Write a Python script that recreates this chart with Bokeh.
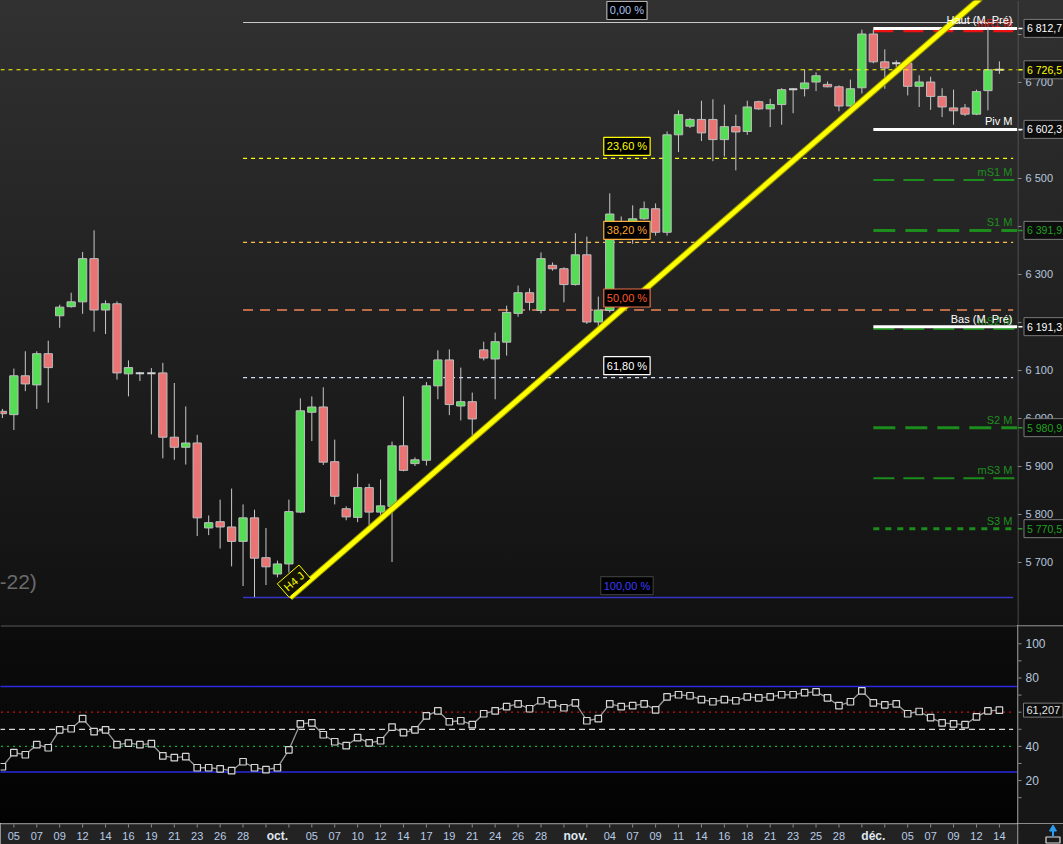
from bokeh.plotting import figure
from bokeh.models import Range1d, ColumnDataSource, Label, Span
from bokeh.layouts import column, row
from bokeh.embed import file_html
from bokeh.resources import INLINE
from bokeh.core.properties import value

FONT = "Liberation Sans"

# ---------------- data (daily candles, 6 sessions per week) ----------------
opens = [6015, 6008, 6089, 6070, 6135, 6214, 6233, 6243, 6333, 6226,
         6239, 6093, 6094, 6094, 6095, 5961, 5940, 5949, 5772, 5785,
         5774, 5744, 5793, 5710, 5676, 5697, 5805, 6013, 6024, 5910,
         5812, 5794, 5856, 5805, 5817, 5943, 5906, 5913, 6068, 6122,
         6026, 6035, 6143, 6124, 6159, 6219, 6262, 6225, 6319, 6312,
         6279, 6341, 6201, 6225, 6408, 6392, 6416, 6437, 6388, 6591,
         6609, 6623, 6623, 6581, 6608, 6598, 6660, 6645, 6654, 6686,
         6687, 6701, 6696, 6691, 6651, 6689, 6801, 6743, 6740, 6740,
         6692, 6701, 6671, 6647, 6647, 6634, 6683, 6726.5]
highs = [6020, 6104, 6140, 6140, 6162, 6237, 6262, 6347, 6392, 6246,
         6244, 6121, 6097, 6105, 6116, 6074, 6025, 5966, 5798, 5831,
         5854, 5821, 5810, 5772, 5704, 5831, 6042, 6046, 6065, 5956,
         5817, 5885, 5864, 5873, 5952, 6046, 5919, 6076, 6142, 6144,
         6106, 6054, 6160, 6179, 6235, 6277, 6271, 6346, 6325, 6315,
         6386, 6379, 6254, 6469, 6421, 6444, 6452, 6448, 6598, 6642,
         6626, 6662, 6665, 6654, 6633, 6662, 6662, 6666, 6688, 6688,
         6727, 6721, 6702, 6694, 6706, 6810, 6810, 6769, 6746, 6753,
         6715, 6712, 6688, 6685, 6655, 6685, 6812.7, 6744]
lows = [6001, 5976, 6057, 6020, 6033, 6189, 6231, 6218, 6181, 6176,
        6081, 6046, 6078, 5967, 5917, 5914, 5904, 5755, 5757, 5729,
        5692, 5651, 5628, 5653, 5669, 5679, 5803, 5953, 5903, 5821,
        5788, 5784, 5777, 5794, 5701, 5890, 5901, 5902, 6040, 6007,
        5996, 5961, 6121, 6040, 6131, 6212, 6225, 6219, 6308, 6242,
        6277, 6197, 6183, 6221, 6375, 6364, 6414, 6381, 6381, 6555,
        6605, 6578, 6536, 6546, 6517, 6591, 6643, 6607, 6612, 6636,
        6671, 6682, 6690, 6640, 6642, 6677, 6740, 6687, 6732, 6673,
        6649, 6643, 6628, 6612, 6630, 6632, 6642, 6718]
closes = [6010, 6089, 6072, 6135, 6106, 6232, 6243, 6333, 6226, 6239,
          6095, 6106, 6094, 6094, 5961, 5940, 5949, 5793, 5783, 5774,
          5744, 5793, 5709, 5691, 5697, 5806, 6016, 6024, 5909, 5838,
          5795, 5856, 5805, 5818, 5943, 5892, 5914, 6068, 6122, 6029,
          6035, 5999, 6126, 6160, 6221, 6262, 6242, 6333, 6312, 6279,
          6341, 6201, 6226, 6426, 6392, 6416, 6437, 6388, 6591, 6633,
          6623, 6595, 6581, 6608, 6597, 6649, 6645, 6654, 6685, 6686,
          6699, 6714, 6691, 6651, 6687, 6801, 6743, 6730, 6740, 6692,
          6701, 6671, 6649, 6641, 6634, 6681, 6726.5, 6726.5]
rsi = [28.1, 36.3, 35.1, 41.0, 39.2, 49.7, 50.3, 56.2, 48.6, 49.7,
       41.0, 41.9, 41.0, 41.6, 34.5, 33.4, 34.0, 27.5, 27.5, 26.9,
       25.8, 31.0, 27.5, 26.4, 27.5, 38.0, 53.2, 53.8, 46.8, 42.7,
       40.4, 45.1, 42.1, 43.3, 51.3, 48.0, 49.7, 57.9, 60.8, 54.4,
       55.0, 52.7, 59.1, 60.8, 63.2, 64.9, 62.0, 66.7, 64.9, 62.6,
       65.5, 55.0, 56.2, 64.9, 63.2, 63.8, 64.9, 61.4, 69.0, 70.2,
       69.6, 67.3, 66.1, 67.3, 66.7, 69.0, 68.4, 69.0, 70.2, 70.2,
       71.4, 71.9, 68.4, 63.8, 66.1, 72.5, 65.5, 64.3, 64.9, 59.1,
       60.4, 56.8, 53.8, 53.2, 52.7, 57.3, 60.8, 61.207]
rsi_last_text = "61,207"

# x-axis (session index -> label)
day_ticks = [1, 3, 5, 7, 9, 11, 13, 15, 17, 19, 21,
             27, 29, 31, 33, 35, 37, 39, 41, 43, 45, 47,
             53, 55, 57, 59, 61, 63, 65, 67, 69, 71, 73,
             79, 81, 83, 85, 87]
day_labels = ["05", "07", "09", "12", "14", "16", "19", "21", "23", "26", "28",
              "05", "07", "10", "12", "14", "17", "19", "21", "24", "26", "28",
              "04", "07", "09", "11", "14", "16", "18", "21", "23", "25", "28",
              "05", "07", "09", "12", "14"]
blank_ticks = [23, 25, 49, 51, 75, 77]
month_ticks = [24, 50, 76]
month_labels = ["oct.", "nov.", "déc."]

price_ticks = [5700, 5800, 5900, 6000, 6100, 6200, 6300, 6400, 6500, 6600, 6700, 6800]
price_tick_labels = ["5 700", "5 800", "5 900", "6 000", "6 100", "6 200",
                     "6 300", "6 400", "6 500", "6 600", "6 700", "6 800"]
rsi_ticks = [10, 20, 30, 40, 50, 60, 70, 80, 90, 100]
rsi_label_ticks = [20, 40, 60, 80, 100]
rsi_tick_labels = ["20", "40", "60", "80", "100"]

# Fibonacci retracement
fib_names = ["0,00 %", "23,60 %", "38,20 %", "50,00 %", "61,80 %", "100,00 %"]
fib_prices = [6825.0, 6542.0, 6367.0, 6226.0, 6085.0, 5627.0]
fib_line_colors = ["#c8c8c8", "#ffff00", "#ffc04a", "#f0845a", "#d4dcff", "#3535c8"]
fib_text_colors = ["#a9c2ee", "#ffff00", "#ffa530", "#ff5a28", "#ffffff", "#3c3cff"]
fib_box_colors = ["#b0b0b0", "#ffff00", "#ffb040", "#e8704a", "#ffffff", "#3a3a3a"]
fib_dashes = ["solid", "4 4", "4 4", "10 7", "4 4", "solid"]
fib_widths = [1.2, 1.3, 1.3, 1.3, 1.3, 1.5]

# monthly pivots
piv_names = ["mR1 M", "Haut (M. Pré)", "Piv M", "mS1 M", "S1 M",
             "mS2 M", "Bas (M. Pré)", "S2 M", "mS3 M", "S3 M"]
piv_values = [6807.8, 6812.7, 6602.3, 6497.1, 6391.9,
              6186.4, 6191.3, 5980.9, 5875.7, 5770.5]
piv_colors = ["#ee1111", "#ffffff", "#ffffff", "#1c8c1c", "#1c8c1c",
              "#1c8c1c", "#ffffff", "#1c8c1c", "#1c8c1c", "#1c8c1c"]
piv_text_colors = ["#e01818", "#ffffff", "#ffffff", "#1f8f1f", "#1f8f1f",
                   "#1f8f1f", "#ffffff", "#1f8f1f", "#1f8f1f", "#1f8f1f"]
piv_dashes = ["20 10", "solid", "solid", "21 9", "22 10",
              "21 9", "solid", "22 10", "21 9", "6 6"]
piv_widths = [3, 3, 3, 2, 3, 2, 3, 3, 2, 3]

last_price = 6726.5
axis_box_values = [6812.7, 6726.5, 6602.3, 6391.9, 6191.3, 5980.9, 5770.5]
axis_box_texts = ["6 812,7", "6 726,5", "6 602,3", "6 391,9", "6 191,3", "5 980,9", "5 770,5"]
axis_box_colors = ["#ffffff", "#ffff00", "#ffffff", "#22a022", "#ffffff", "#22a022", "#22a022"]

# trend line drawn by the user
trend_x = [25.1, 90.0]
trend_y = [5627.0, 6972.0]

# RSI reference levels
rsi_levels = [75, 60, 50, 40, 25]
rsi_level_colors = ["#2a2ae0", "#d01010", "#d8d8d8", "#10b048", "#2a2ae0"]
rsi_level_dashes = ["solid", "2 4", "6 4", "2 4", "solid"]
rsi_level_widths = [1.6, 1.3, 1.3, 1.3, 1.6]

# ---------------- layout constants ----------------
FW, AW = 1017, 46
MAIN_H, RSI_H, XAX_H = 625, 198, 21
X0, X1 = -0.166, 88.58
XR = Range1d(X0, X1)
PX_PER_X = FW / (X1 - X0)
NAME_X = 88.14
LEVEL_START = 76
FIB_START = 21
FIB_END = 88.2
FIB_LABEL_X = 54.5
MAIN_BG = "linear-gradient(180deg, #313131 0%, #222222 45%, #111111 100%)"


def bare(**kw):
    f = figure(toolbar_location=None, output_backend="svg", x_axis_location=None,
               y_axis_location=None, min_border=0, outline_line_color=None, **kw)
    f.grid.visible = False
    return f


# ---------------- main price chart ----------------
p = bare(frame_width=FW, frame_height=MAIN_H, x_range=XR, y_range=Range1d(5568.75, 6870.8),
         background_fill_color=None, border_fill_color=None)
p.styles = {"background": MAIN_BG}

for name, lvl, lc, dash, w in zip(fib_names, fib_prices, fib_line_colors, fib_dashes, fib_widths):
    p.segment(x0=[FIB_START], y0=[lvl], x1=[FIB_END], y1=[lvl],
              line_color=lc, line_dash=dash, line_width=w)

p.add_layout(Span(location=last_price, dimension="width", line_color="#ffff00",
                  line_dash="4 4", line_width=1.2))

for val, col, dash, w in zip(piv_values, piv_colors, piv_dashes, piv_widths):
    p.segment(x0=[LEVEL_START], y0=[val], x1=[X1 + 1], y1=[val],
              line_color=col, line_dash=dash, line_width=w)

kind = ["up" if c > o else ("down" if c < o else "flat") for o, c in zip(opens, closes)]
fill_map = {"up": "#55de55", "down": "#ea7474", "flat": "#d2d2d2"}
edge_map = {"up": "#bdbdbd", "down": "#bdbdbd", "flat": "#d2d2d2"}
src = ColumnDataSource(dict(
    x=list(range(len(opens))), o=opens, h=highs, l=lows, c=closes,
    top=[max(o, c) for o, c in zip(opens, closes)],
    bottom=[min(o, c) for o, c in zip(opens, closes)],
    fill=[fill_map[k] for k in kind], edge=[edge_map[k] for k in kind],
    ew=[2.0 if k == "flat" else 1.0 for k in kind]))
p.segment(x0="x", y0="l", x1="x", y1="h", source=src, line_color="#c8c8c8", line_width=1)
p.vbar(x="x", width=0.725, top="top", bottom="bottom", source=src,
       fill_color="fill", line_color="edge", line_width="ew")

p.line(trend_x, trend_y, line_color="#9a9a00", line_width=6.5)
p.line(trend_x, trend_y, line_color="#ffff00", line_width=4.5)
p.add_layout(Label(x=25.45, y=5661, text="H4 J", angle=0.714, text_align="center",
                   text_baseline="middle", text_color="#ffff00", text_font=FONT,
                   text_font_size="11px", background_fill_color="#141400",
                   border_line_color="#ffff00", padding=3))

for name, lvl, tc, bc in zip(fib_names, fib_prices, fib_text_colors, fib_box_colors):
    p.add_layout(Label(x=FIB_LABEL_X, y=lvl, text=name, text_align="center",
                       text_baseline="bottom", y_offset=3, text_color=tc,
                       text_font=FONT, text_font_size="11px",
                       background_fill_color="#000000", border_line_color=bc,
                       border_line_width=1.2, padding=3))

for name, val, tc in zip(piv_names, piv_values, piv_text_colors):
    p.add_layout(Label(x=NAME_X, y=val, text=name, text_align="right",
                       text_baseline="bottom", y_offset=2, text_color=tc,
                       text_font=FONT, text_font_size="11px"))

p.add_layout(Label(x=X0 - 1 / PX_PER_X, y=5661, text="-22)", text_align="left",
                   text_baseline="middle", text_color="#6a6a6a", text_font=FONT,
                   text_font_size="21px"))

# ---------------- price axis panel ----------------
pa = bare(frame_width=AW, frame_height=MAIN_H, x_range=Range1d(0, AW), y_range=p.y_range,
          background_fill_color=None, border_fill_color=None)
pa.styles = {"background": MAIN_BG}
pa.add_layout(Span(location=0.5, dimension="height", line_color="#5c5c5c", line_width=1))
pa.segment(x0=[0] * len(price_ticks), y0=price_ticks, x1=[4] * len(price_ticks), y1=price_ticks,
           line_color="#8c8c8c", line_width=1)
pa.text(x=[8] * len(price_ticks), y=price_ticks, text=price_tick_labels,
        text_font=value(FONT), text_font_size="11px", text_color="#b7c7df",
        text_baseline="middle", text_align="left")
pa.segment(x0=[0] * len(axis_box_values), y0=axis_box_values, x1=[5] * len(axis_box_values),
           y1=axis_box_values, line_color=axis_box_colors, line_width=1.5)
for val, txt, col in zip(axis_box_values, axis_box_texts, axis_box_colors):
    pa.add_layout(Label(x=6.5, y=val, text=txt, text_align="left", text_baseline="middle",
                        text_color=col, text_font=FONT, text_font_size="10.5px",
                        background_fill_color="#0d0d0d", border_line_color="#7a7a7a",
                        padding=3))

# ---------------- RSI panel ----------------
r = bare(frame_width=FW, frame_height=RSI_H, x_range=XR, y_range=Range1d(-5.1, 110.7),
         background_fill_color=None, border_fill_color=None)
r.styles = {"background": "linear-gradient(180deg, #0c0c0c 0%, #080808 60%, #020202 100%)"}
r.add_layout(Span(location=110.7, dimension="width", line_color="#5a5a5a", line_width=2))
for lvl, col, dash, w in zip(rsi_levels, rsi_level_colors, rsi_level_dashes, rsi_level_widths):
    end = X1 + 1 if dash == "solid" else 88.2
    r.segment(x0=[X0 - 1], y0=[lvl], x1=[end], y1=[lvl], line_color=col, line_dash=dash, line_width=w)

rsrc = ColumnDataSource(dict(x=list(range(len(rsi))), y=rsi))
r.line("x", "y", source=rsrc, line_color="#9a9a9a", line_width=1.3)
r.scatter("x", "y", source=rsrc, marker="square", size=6.5, fill_color="#0a0a0a",
          line_color="#d6d6d6", line_width=1.2)

ra = bare(frame_width=AW, frame_height=RSI_H, x_range=Range1d(0, AW), y_range=r.y_range,
          background_fill_color="#161616", border_fill_color="#161616")
ra.add_layout(Span(location=0.5, dimension="height", line_color="#5c5c5c", line_width=1))
ra.add_layout(Span(location=110.7, dimension="width", line_color="#5a5a5a", line_width=2))
ra.segment(x0=[0] * len(rsi_ticks), y0=rsi_ticks, x1=[4] * len(rsi_ticks), y1=rsi_ticks,
           line_color="#8c8c8c", line_width=1)
ra.text(x=[8] * len(rsi_label_ticks), y=rsi_label_ticks, text=rsi_tick_labels,
        text_font=value(FONT), text_font_size="12px", text_color="#b7c7df",
        text_baseline="middle", text_align="left")
ra.add_layout(Label(x=6, y=rsi[-1], text=rsi_last_text, text_align="left", text_baseline="middle",
                    text_color="#e2e2e2", text_font=FONT, text_font_size="11px",
                    background_fill_color="#0d0d0d", border_line_color="#7a7a7a", padding=3))

# ---------------- date axis band ----------------
xb = bare(frame_width=FW, frame_height=XAX_H, x_range=XR, y_range=Range1d(0, XAX_H),
          background_fill_color="#232323", border_fill_color="#232323")
all_ticks = sorted(day_ticks + blank_ticks)
xb.add_layout(Span(location=XAX_H - 0.5, dimension="width", line_color="#5c5c5c", line_width=1))
xb.segment(x0=all_ticks, y0=[XAX_H] * len(all_ticks), x1=all_ticks, y1=[XAX_H - 4] * len(all_ticks),
           line_color="#8c8c8c", line_width=1)
xb.text(x=day_ticks, y=[8.5] * len(day_ticks), text=day_labels, text_font=value(FONT),
        text_font_size="11px", text_color="#b8cbe6", text_align="center", text_baseline="middle")
xb.text(x=month_ticks, y=[8.5] * len(month_ticks), text=month_labels, text_font=value(FONT),
        text_font_size="12px", text_font_style="bold", text_color="#dfe6f0",
        text_align="center", text_baseline="middle")

corner = bare(frame_width=AW, frame_height=XAX_H, x_range=Range1d(0, AW), y_range=Range1d(0, XAX_H),
              background_fill_color="#1b1b1b", border_fill_color="#1b1b1b")
corner.add_layout(Span(location=0.5, dimension="height", line_color="#5c5c5c", line_width=1))
corner.rect(x=[35.5], y=[4.5], width=[14], height=[6], fill_color="#1b1b1b",
            line_color="#e0e0e0", line_width=1.2)
corner.segment(x0=[35.5], y0=[8], x1=[35.5], y1=[14], line_color="#2a9df4", line_width=2)
corner.scatter(x=[35.5], y=[15.5], marker="triangle", size=7, fill_color="#2a9df4",
               line_color="#2a9df4")

layout = column(row(p, pa, spacing=0), row(r, ra, spacing=0), row(xb, corner, spacing=0), spacing=0)
open("out.html", "w").write(file_html(layout, INLINE))
